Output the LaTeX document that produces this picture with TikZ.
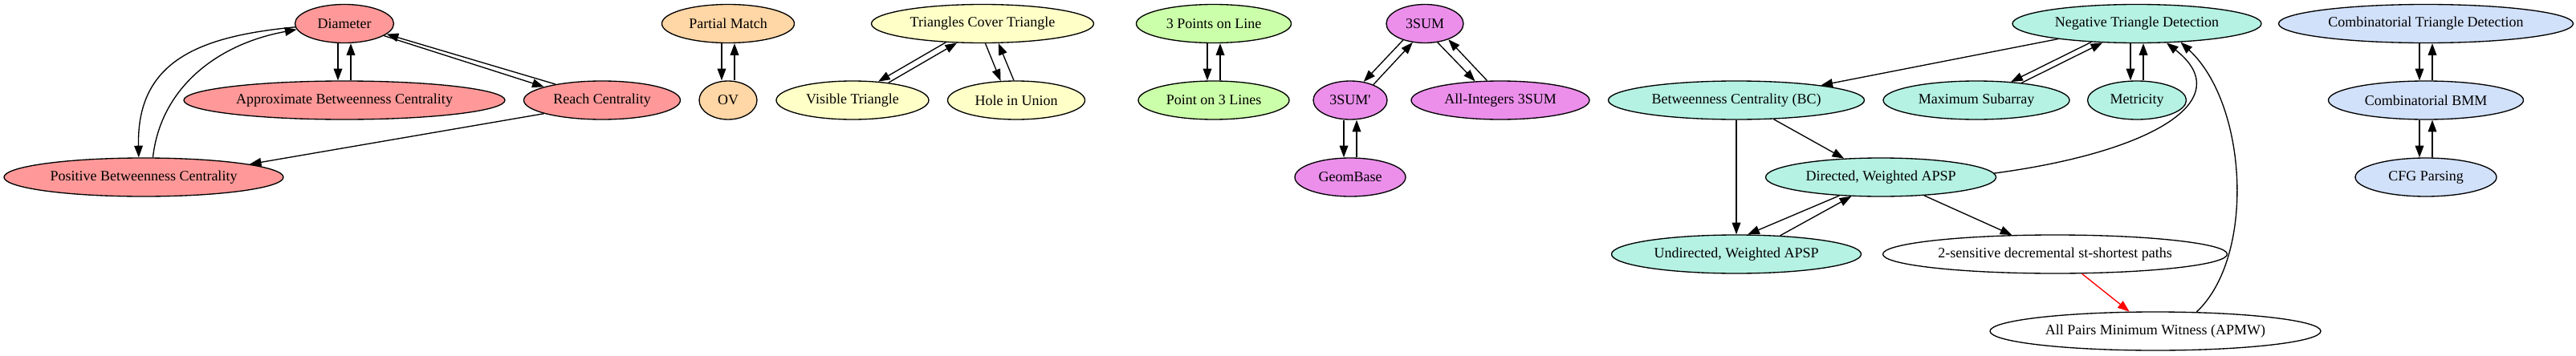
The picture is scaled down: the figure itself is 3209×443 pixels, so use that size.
\documentclass[tikz,border=0pt]{standalone}
\usepackage{fontspec}
\setmainfont{Liberation Serif}
\usepackage{xcolor}
\usetikzlibrary{shapes.geometric, arrows.meta}
\definecolor{redc}{HTML}{FF9999}
\definecolor{orangec}{HTML}{FFD6A5}
\definecolor{yellowc}{HTML}{FFFFC8}
\definecolor{greenc}{HTML}{CCFFAA}
\definecolor{purplec}{HTML}{EB8FEB}
\definecolor{tealc}{HTML}{B5F2E3}
\definecolor{bluec}{HTML}{D2E1FA}
\tikzstyle{prob} = [ellipse, draw=black, line width=1pt, inner sep=0pt, minimum height=36pt, font=\fontsize{13.5}{16}\selectfont]
\tikzstyle{arrow} = [line width=1pt, -{Triangle[length=11pt, width=8pt]}]

\begin{document}
\begin{tikzpicture}[x=0.75pt, y=0.75pt]
    \useasboundingbox (0,0) rectangle (3209,-443);

    % Diameter group
    \node[prob, fill=redc, minimum width=92.25pt] (dia) at (429,-29.5) {Diameter};
    \node[prob, fill=redc, minimum width=300pt] (abc) at (429,-125) {Approximate Betweenness Centrality};
    \node[prob, fill=redc, minimum width=146.25pt] (rc) at (750,-125) {Reach Centrality};
    \node[prob, fill=redc, minimum width=261pt] (pbc) at (179,-221) {Positive Betweenness Centrality};

    % OV group
    \node[prob, fill=orangec, minimum width=123.75pt] (pm) at (907,-29.5) {Partial Match};
    \node[prob, fill=orangec, minimum width=54pt] (ov) at (907,-125) {OV};

    % Triangle cover group
    \node[prob, fill=yellowc, minimum width=207.75pt] (tct) at (1224,-29.5) {Triangles Cover Triangle};
    \node[prob, fill=yellowc, minimum width=142.5pt] (vt) at (1062,-125) {Visible Triangle};
    \node[prob, fill=yellowc, minimum width=128.25pt] (hu) at (1266,-125) {Hole in Union};

    % Points and lines
    \node[prob, fill=greenc, minimum width=144.75pt] (p3l) at (1512,-29.5) {3 Points on Line};
    \node[prob, fill=greenc, minimum width=141pt] (p3ls) at (1512,-125) {Point on 3 Lines};

    % 3SUM group
    \node[prob, fill=purplec, minimum width=72pt] (s3) at (1775,-29.5) {3SUM};
    \node[prob, fill=purplec, minimum width=69pt] (s3p) at (1682,-125) {3SUM\textquotesingle};
    \node[prob, fill=purplec, minimum width=166.5pt] (ai3) at (1869,-125) {All-Integers 3SUM};
    \node[prob, fill=purplec, minimum width=103.5pt] (gb) at (1682,-221) {GeomBase};

    % APSP group
    \node[prob, fill=tealc, minimum width=232.5pt] (ntd) at (2662,-29.5) {Negative Triangle Detection};
    \node[prob, fill=tealc, minimum width=239.25pt] (bc) at (2163,-125) {Betweenness Centrality (BC)};
    \node[prob, fill=tealc, minimum width=174pt] (ms) at (2462,-125) {Maximum Subarray};
    \node[prob, fill=tealc, minimum width=92.25pt] (met) at (2662,-125) {Metricity};
    \node[prob, fill=tealc, minimum width=215.25pt] (dw) at (2343,-221) {Directed, Weighted APSP};
    \node[prob, fill=tealc, minimum width=233.25pt] (uw) at (2163,-317) {Undirected, Weighted APSP};
    \node[prob, fill=white, minimum width=321.75pt] (tsp) at (2560,-317) {2-sensitive decremental st-shortest paths};
    \node[prob, fill=white, minimum width=309pt] (apmw) at (2685,-413) {All Pairs Minimum Witness (APMW)};

    % BMM group
    \node[prob, fill=bluec, minimum width=275.25pt] (ctd) at (3022,-29.5) {Combinatorial Triangle Detection};
    \node[prob, fill=bluec, minimum width=182.25pt] (cbmm) at (3022,-125) {Combinatorial BMM};
    \node[prob, fill=bluec, minimum width=132pt] (cfg) at (3022,-221) {CFG Parsing};

    % Reductions
    \draw[arrow] ([xshift=-6pt]dia.south) -- ([xshift=-6pt]abc.north);
    \draw[arrow] ([xshift=6pt]abc.north) -- ([xshift=6pt]dia.south);
    \draw[arrow] (dia.-17.4) -- (rc.167.7);
    \draw[arrow] (rc.161.1) -- (dia.-14.7);
    \draw[arrow] (rc.-167.7) -- (pbc.7.9);
    \draw[arrow] (dia.-176) .. controls (250,-45) and (170,-75) .. (pbc.104);
    \draw[arrow] (pbc.65.3) .. controls (200,-110) and (270,-55) .. (dia.-173.4);

    \draw[arrow] ([xshift=-6pt]pm.south) -- ([xshift=-6pt]ov.north);
    \draw[arrow] ([xshift=6pt]ov.north) -- ([xshift=6pt]pm.south);

    \draw[arrow] (tct.-153.8) -- (vt.36.2);
    \draw[arrow] (vt.26.5) -- (tct.-143.9);
    \draw[arrow] (tct.-82.9) -- (hu.129.1);
    \draw[arrow] (hu.97.1) -- (tct.-51.4);

    \draw[arrow] ([xshift=-6pt]p3l.south) -- ([xshift=-6pt]p3ls.north);
    \draw[arrow] ([xshift=6pt]p3ls.north) -- ([xshift=6pt]p3l.south);

    \draw[arrow] (s3.-143.7) -- (s3p.54.6);
    \draw[arrow] (s3p.34.2) -- (s3.-123.3);
    \draw[arrow] (s3.-56.7) -- (ai3.143.4);
    \draw[arrow] (ai3.124) -- (s3.-34.9);
    \draw[arrow] ([xshift=-6pt]s3p.south) -- ([xshift=-6pt]gb.north);
    \draw[arrow] ([xshift=6pt]gb.north) -- ([xshift=6pt]s3p.south);

    \draw[arrow] (ntd.-169.1) -- (bc.10.8);
    \draw[arrow] (ntd.-158.2) -- (ms.28.7);
    \draw[arrow] (ms.21.4) -- (ntd.-151.8);
    \draw[arrow] ([xshift=-6pt]ntd.south) -- ([xshift=-6pt]met.north);
    \draw[arrow] ([xshift=6pt]met.north) -- ([xshift=6pt]ntd.south);
    \draw[arrow] (bc.south) -- (uw.north);
    \draw[arrow] (bc.-27.7) -- (dw.153.7);
    \draw[arrow] (dw.-156.3) -- (uw.60.1);
    \draw[arrow] (uw.23.1) -- (dw.-147.2);
    \draw[arrow] (dw.-23.3) -- (tsp.156.3);
    \draw[arrow, red] (tsp.-36.5) -- (apmw.143.5);
    \draw[arrow] (dw.2.2) .. controls (2680,-190) and (2790,-125) .. (ntd.-33.8);
    \draw[arrow] (apmw.25) .. controls (2810,-320) and (2800,-130) .. (ntd.-23);

    \draw[arrow] ([xshift=-6pt]ctd.south) -- ([xshift=-6pt]cbmm.north);
    \draw[arrow] ([xshift=6pt]cbmm.north) -- ([xshift=6pt]ctd.south);
    \draw[arrow] ([xshift=-6pt]cbmm.south) -- ([xshift=-6pt]cfg.north);
    \draw[arrow] ([xshift=6pt]cfg.north) -- ([xshift=6pt]cbmm.south);
\end{tikzpicture}
\end{document}
